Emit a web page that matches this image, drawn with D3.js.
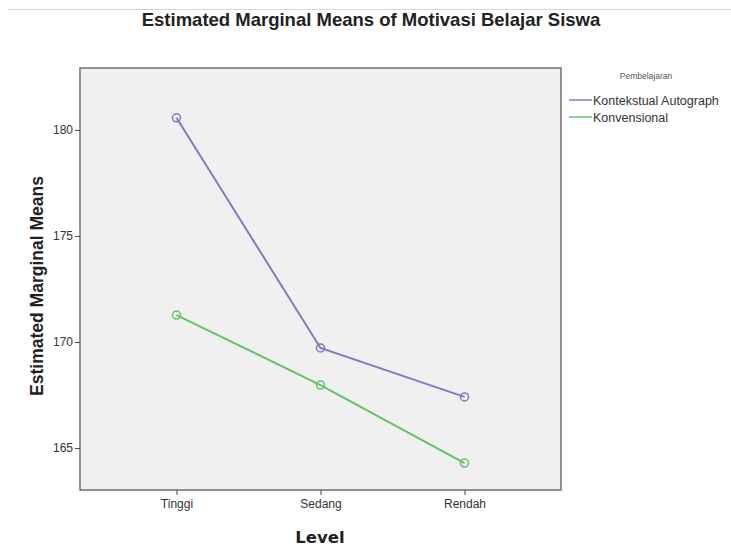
<!DOCTYPE html>
<html><head><meta charset="utf-8">
<script src="https://cdn.jsdelivr.net/npm/d3@7"></script>
<style>body{margin:0;background:#fff}svg{display:block}</style>
</head><body>
<svg id="c" width="731" height="547"></svg>
<script>
const categories = ["Tinggi", "Sedang", "Rendah"];
const seriesNames = ["Kontekstual Autograph", "Konvensional"];
const kontekstual = [180.57, 169.72, 167.41];
const konvensional = [171.27, 167.97, 164.29];
const yTicks = [165, 170, 175, 180];
const colors = ["#7c7cc4", "#66c266"];
const seriesValues = [kontekstual, konvensional];

const svg = d3.select("#c");
const L = 80, T = 68, R = 561, B = 490;
const FF = "Liberation Sans, Arial, sans-serif";

svg.append("line").attr("x1", 8).attr("x2", 731).attr("y1", 9.5).attr("y2", 9.5)
  .attr("stroke", "#c8d8e0").attr("stroke-width", 1);

svg.append("text").attr("x", 371).attr("y", 26).attr("text-anchor", "middle")
  .attr("font-family", FF).attr("font-weight", "bold")
  .attr("font-size", 18.5).attr("fill", "#222").text("Estimated Marginal Means of Motivasi Belajar Siswa");

const x = d3.scalePoint().domain(categories).range([L, R]).padding(0.67);
const y = d3.scaleLinear().domain([163.02, 182.92]).range([B, T]);

svg.append("rect").attr("x", L).attr("y", T).attr("width", R - L).attr("height", B - T)
  .attr("fill", "#f0f0f0").attr("stroke", "#707070").attr("stroke-width", 1.5);

const ya = svg.append("g").attr("transform", `translate(${L},0)`)
  .call(d3.axisLeft(y).tickValues(yTicks).tickSize(5).tickPadding(2).tickFormat(d3.format("d")));
const xa = svg.append("g").attr("transform", `translate(0,${B})`)
  .call(d3.axisBottom(x).tickSize(5).tickPadding(4));
[ya, xa].forEach(a => {
  a.select(".domain").remove();
  a.selectAll("line").attr("stroke", "#444");
  a.selectAll("text").attr("font-family", FF)
    .attr("font-size", 12).attr("fill", "#333");
});

const line = d3.line().x((d, i) => x(categories[i])).y(d => y(d));
seriesValues.forEach((vals, s) => {
  svg.append("path").datum(vals).attr("d", line).attr("fill", "none")
    .attr("stroke", colors[s]).attr("stroke-width", 2);
  svg.selectAll(null).data(vals).enter().append("circle")
    .attr("cx", (d, i) => x(categories[i])).attr("cy", d => y(d)).attr("r", 4)
    .attr("fill", "none").attr("stroke", colors[s]).attr("stroke-width", 1.5);
});

svg.append("text").attr("transform", `translate(43,286) rotate(-90)`)
  .attr("text-anchor", "middle").attr("font-family", FF)
  .attr("font-weight", "bold").attr("font-size", 17.5).attr("fill", "#222").text("Estimated Marginal Means");

svg.append("text").attr("x", 320).attr("y", 543).attr("text-anchor", "middle")
  .attr("font-family", "DejaVu Sans, sans-serif").attr("font-weight", "bold")
  .attr("font-size", 16.5).attr("fill", "#222").text("Level");

// legend
svg.append("text").attr("x", 646).attr("y", 79).attr("text-anchor", "middle")
  .attr("font-family", FF).attr("font-size", 8.5).attr("fill", "#555").text("Pembelajaran");
seriesNames.forEach((n, i) => {
  const yy = 100 + i * 17;
  svg.append("line").attr("x1", 569).attr("x2", 592).attr("y1", yy).attr("y2", yy)
    .attr("stroke", colors[i]).attr("stroke-width", 1.5);
  svg.append("text").attr("x", 593).attr("y", yy + 4.5).attr("font-family", FF)
    .attr("font-size", 12.5).attr("fill", "#333").text(n);
});
</script>
</body></html>
